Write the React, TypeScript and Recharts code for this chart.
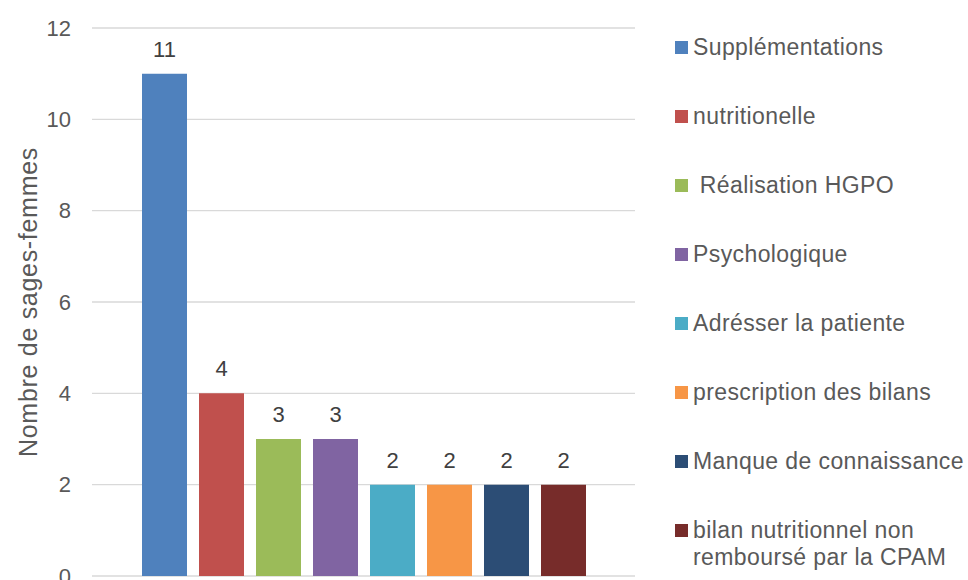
import { BarChart, Bar, XAxis, YAxis, CartesianGrid, Legend, LabelList } from 'recharts'

const seriesNames = [
  'Supplémentations',
  'nutritionelle',
  ' Réalisation HGPO',
  'Psychologique',
  'Adrésser la patiente',
  'prescription des bilans',
  'Manque de connaissance',
  'bilan nutritionnel non remboursé par la CPAM'
]
const seriesValues = [11, 4, 3, 3, 2, 2, 2, 2]
const seriesColors = ['#4F81BD', '#C0504D', '#9BBB59', '#8064A2', '#4BACC6', '#F79646', '#2C4D75', '#772C2A']
const yTicks = [0, 2, 4, 6, 8, 10, 12]

const row: Record<string, number | string> = { cat: '' }
seriesValues.forEach((v, i) => {
  row['s' + i] = v
})
const data = [row]

const font = '"Liberation Sans", Arial, sans-serif'

// legend drawn in series order (recharts sorts the payload by name otherwise)
function LegendBox() {
  return (
    <div style={{ width: 333, paddingTop: 34, paddingLeft: 40, fontFamily: font, fontSize: 23, letterSpacing: 0.4, color: '#595959', boxSizing: 'border-box' }}>
      {seriesNames.map((name, i) => (
        <div key={i} style={{ display: 'flex', alignItems: 'flex-start', height: 69, lineHeight: '27px' }}>
          <span style={{ display: 'inline-block', width: 13, height: 13, background: seriesColors[i], marginTop: 7, marginRight: 5, flexShrink: 0 }} />
          <span style={{ whiteSpace: 'pre-wrap', width: 276, flexShrink: 0 }}>{name}</span>
        </div>
      ))}
    </div>
  )
}

export default function App() {
  return (
    <div style={{ position: 'absolute', left: 0, top: 0 }}>
      <BarChart
        width={968}
        height={580}
        data={data}
        margin={{ top: 28, right: 0, bottom: 4, left: 0 }}
        barGap={12}
        barSize={45}
        style={{ fontFamily: font }}
      >
        <CartesianGrid vertical={false} stroke="#D9D9D9" strokeWidth={1.3} />
        <XAxis dataKey="cat" hide />
        <YAxis
          width={92}
          domain={[0, 12]}
          ticks={yTicks}
          interval={0}
          axisLine={false}
          tickLine={false}
          tickSize={0}
          tickMargin={21}
          tick={{ fill: '#595959', fontSize: 22 }}
          label={{ value: 'Nombre de sages-femmes', angle: -90, position: 'insideLeft', offset: 28, style: { textAnchor: 'middle', fill: '#595959', fontSize: 25, letterSpacing: 0.7 } }}
        />
        <Legend layout="vertical" align="right" verticalAlign="top" wrapperStyle={{ top: 0 }} content={<LegendBox />} />
        {seriesNames.map((name, i) => (
          <Bar key={i} dataKey={'s' + i} name={name} fill={seriesColors[i]} isAnimationActive={false}>
            <LabelList dataKey={'s' + i} position="top" offset={17} fill="#404040" fontSize={22} />
          </Bar>
        ))}
      </BarChart>
    </div>
  )
}
